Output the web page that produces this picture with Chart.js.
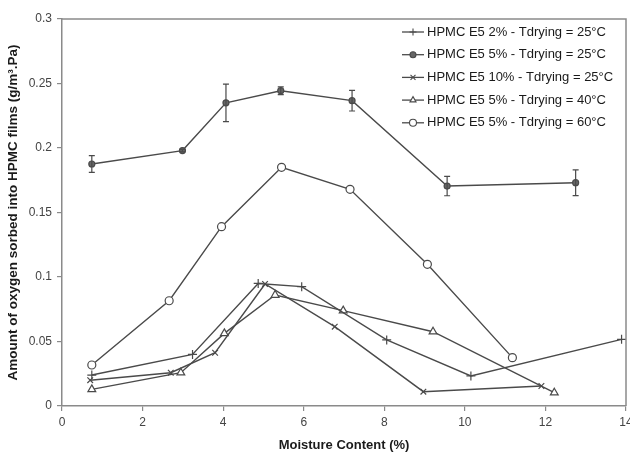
<!DOCTYPE html>
<html>
<head>
<meta charset="utf-8">
<script src="https://cdn.jsdelivr.net/npm/chart.js@4/dist/chart.umd.min.js"></script>
<style>
html,body{margin:0;padding:0;background:#fff;overflow:hidden;}
#wrap{width:640px;height:463px;}
</style>
</head>
<body>
<div id="wrap"><canvas id="c" width="640" height="463"></canvas></div>
<script>
// ---- data ----
const seriesNames = [
  'HPMC E5 2% - Tdrying = 25°C',
  'HPMC E5 5% - Tdrying = 25°C',
  'HPMC E5 10% - Tdrying = 25°C',
  'HPMC E5 5% - Tdrying = 40°C',
  'HPMC E5 5% - Tdrying = 60°C'
];
const x2pct25 = [0.74, 3.24, 4.87, 5.95, 8.06, 10.15, 13.89];
const y2pct25 = [0.024, 0.040, 0.095, 0.0925, 0.0512, 0.0233, 0.0517];
const x5pct25 = [0.74, 2.99, 4.07, 5.43, 7.20, 9.56, 12.75];
const y5pct25 = [0.1876, 0.198, 0.235, 0.2444, 0.2367, 0.1705, 0.1731];
const err5pct25 = [0.0065, 0.001, 0.0145, 0.003, 0.008, 0.0075, 0.01];
const x10pct25 = [0.70, 2.70, 3.80, 5.04, 6.77, 8.97, 11.90];
const y10pct25 = [0.020, 0.0258, 0.0413, 0.0946, 0.0615, 0.0111, 0.0155];
const x5pct40 = [0.74, 2.95, 4.03, 5.29, 6.98, 9.21, 12.22];
const y5pct40 = [0.0129, 0.0258, 0.0563, 0.086, 0.0739, 0.0576, 0.0103];
const x5pct60 = [0.74, 2.66, 3.96, 5.45, 7.15, 9.07, 11.18];
const y5pct60 = [0.0318, 0.0816, 0.139, 0.185, 0.168, 0.1098, 0.0375];
const xTickLabels = ['0', '2', '4', '6', '8', '10', '12', '14'];
const yTickLabels = ['0', '0.05', '0.1', '0.15', '0.2', '0.25', '0.3'];
const xTitle = 'Moisture Content (%)';
const yTitle = 'Amount of oxygen sorbed into HPMC films (g/m³.Pa)';

const toPts = (xs, ys) => xs.map((x, i) => ({x: x, y: ys[i]}));
const LINE = '#4a4a4a';
const FONT = '"Liberation Sans", Arial, sans-serif';

const styles = [
  {pointStyle: 'cross', radius: 4.5, bg: LINE},
  {pointStyle: 'circle', radius: 3, bg: '#666'},
  {pointStyle: 'crossRot', radius: 4, bg: LINE},
  {pointStyle: 'triangle', radius: 4.5, bg: '#fff'},
  {pointStyle: 'circle', radius: 4, bg: '#fff'}
];
const seriesData = [
  toPts(x2pct25, y2pct25),
  toPts(x5pct25, y5pct25),
  toPts(x10pct25, y10pct25),
  toPts(x5pct40, y5pct40),
  toPts(x5pct60, y5pct60)
];

const datasets = seriesData.map((d, i) => ({
  label: seriesNames[i],
  data: d,
  borderColor: LINE,
  backgroundColor: styles[i].bg,
  borderWidth: 1.4,
  pointStyle: styles[i].pointStyle,
  pointRadius: styles[i].radius,
  pointBorderColor: LINE,
  pointBackgroundColor: styles[i].bg,
  pointBorderWidth: 1.2,
  showLine: true,
  tension: 0,
  fill: false
}));

// error bars for the 5% / 25°C series
const errorBarPlugin = {
  id: 'errbars',
  afterDatasetsDraw(chart) {
    const ctx = chart.ctx;
    const xs = chart.scales.x, ys = chart.scales.y;
    ctx.save();
    ctx.strokeStyle = LINE;
    ctx.lineWidth = 1.2;
    x5pct25.forEach((xv, i) => {
      const px = xs.getPixelForValue(xv);
      const top = ys.getPixelForValue(y5pct25[i] + err5pct25[i]);
      const bot = ys.getPixelForValue(y5pct25[i] - err5pct25[i]);
      ctx.beginPath();
      ctx.moveTo(px, top); ctx.lineTo(px, bot);
      ctx.moveTo(px - 3, top); ctx.lineTo(px + 3, top);
      ctx.moveTo(px - 3, bot); ctx.lineTo(px + 3, bot);
      ctx.stroke();
    });
    ctx.restore();
  }
};

// frame around plot area
const framePlugin = {
  id: 'frame',
  afterDraw(chart) {
    const {left, right, top, bottom} = chart.chartArea;
    const ctx = chart.ctx;
    ctx.save();
    ctx.strokeStyle = '#8a8a8a';
    ctx.lineWidth = 1.5;
    ctx.beginPath();
    ctx.moveTo(left, top); ctx.lineTo(right, top); ctx.lineTo(right, bottom);
    ctx.stroke();
    ctx.restore();
  }
};

// legend inside chart area
const legendPlugin = {
  id: 'innerLegend',
  afterDraw(chart) {
    const ctx = chart.ctx;
    const area = chart.chartArea;
    const x0 = area.left + 340, x1 = x0 + 22, tx = x1 + 3;
    const y0 = area.top + 13, dy = 22.7;
    ctx.save();
    chart.data.datasets.forEach((ds, i) => {
      const y = y0 + i * dy;
      ctx.strokeStyle = LINE;
      ctx.lineWidth = 1.3;
      ctx.beginPath(); ctx.moveTo(x0, y); ctx.lineTo(x1, y); ctx.stroke();
      ctx.fillStyle = ds.pointBackgroundColor;
      ctx.strokeStyle = LINE;
      ctx.lineWidth = 1.1;
      if (Chart.helpers && Chart.helpers.drawPoint) {
        Chart.helpers.drawPoint(ctx, {pointStyle: ds.pointStyle, radius: Math.min(ds.pointRadius, 3.5), rotation: 0, borderWidth: 1.1}, (x0 + x1) / 2, y);
      }
      ctx.fillStyle = '#1a1a1a';
      ctx.font = '13px ' + FONT;
      ctx.textBaseline = 'middle';
      ctx.textAlign = 'left';
      ctx.fillText(ds.label, tx, y);
    });
    ctx.restore();
  }
};

new Chart(document.getElementById('c'), {
  type: 'scatter',
  data: {datasets: datasets},
  plugins: [errorBarPlugin, framePlugin, legendPlugin],
  options: {
    responsive: false,
    animation: false,
    layout: {padding: {top: 19, right: 14, left: 0, bottom: 0}},
    plugins: {legend: {display: false}, tooltip: {enabled: false}},
    scales: {
      x: {
        type: 'linear', min: 0, max: 14,
        afterFit: s => { s.height = 57; },
        ticks: {stepSize: 2, padding: 4, color: '#444', font: {family: FONT, size: 12},
          callback: (v, i) => xTickLabels[i]},
        grid: {drawOnChartArea: false, tickLength: 5, color: '#8a8a8a', lineWidth: 1.2},
        border: {color: '#8a8a8a', width: 1.5},
        title: {display: true, text: xTitle, color: '#1a1a1a',
          font: {family: FONT, size: 13, weight: 'bold'}, padding: {top: 0, bottom: 10}}
      },
      y: {
        type: 'linear', min: 0, max: 0.3,
        afterFit: s => { s.width = 62; },
        ticks: {stepSize: 0.05, padding: 5, color: '#444', font: {family: FONT, size: 12},
          callback: (v, i) => yTickLabels[i]},
        grid: {drawOnChartArea: false, tickLength: 5, color: '#8a8a8a', lineWidth: 1.2},
        border: {color: '#8a8a8a', width: 1.5},
        title: {display: true, text: yTitle, color: '#1a1a1a',
          font: {family: FONT, size: 13.5, weight: 'bold'}, padding: {top: 5, bottom: 0}}
      }
    }
  }
});
</script>
</body>
</html>
